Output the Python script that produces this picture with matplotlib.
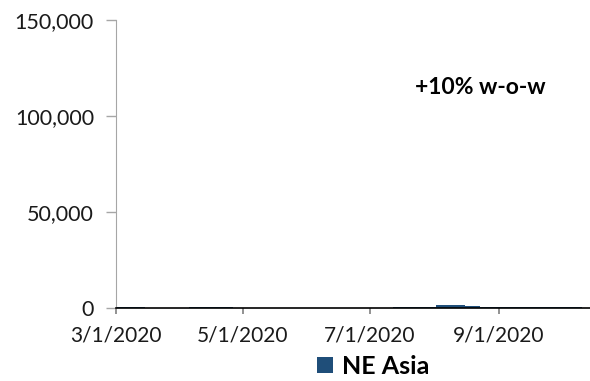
import matplotlib.pyplot as plt
import matplotlib.dates as md
import matplotlib.ticker as mt
import pandas as pd

# weekly NE Asia counts, week starting on each date
week_start = [
    "2020-03-01", "2020-03-08", "2020-03-15", "2020-03-22", "2020-03-29",
    "2020-04-05", "2020-04-12", "2020-04-19", "2020-04-26", "2020-05-03",
    "2020-05-10", "2020-05-17", "2020-05-24", "2020-05-31", "2020-06-07",
    "2020-06-14", "2020-06-21", "2020-06-28", "2020-07-05", "2020-07-12",
    "2020-07-19", "2020-07-26", "2020-08-02", "2020-08-09", "2020-08-16",
    "2020-08-23", "2020-08-30", "2020-09-06", "2020-09-13", "2020-09-20",
    "2020-09-27", "2020-10-04", "2020-10-11",
]
ne_asia = [
    600, 400, 0, 0, 0,
    400, 450, 400, 0, 0,
    0, 0, 0, 0, 0,
    0, 0, 0, 0, 300,
    400, 450, 1500, 1600, 1200,
    600, 500, 500, 500, 450,
    450, 450, 450,
]
x_ticks = ["2020-03-01", "2020-05-01", "2020-07-01", "2020-09-01"]
note = "+10% w-o-w"

colour = "#1F4E79"
plt.rcParams["font.family"] = ["Lato", "DejaVu Sans"]

dates = pd.to_datetime(week_start)
fig = plt.figure(figsize=(5.9, 3.81), dpi=100)
ax = fig.add_axes([0.197, 0.1916, 0.803, 0.756])

ax.fill_between(dates, ne_asia, step="post", color=colour, linewidth=0, label="NE Asia")

ax.set_ylim(0, 150000)
ax.set_xlim(pd.Timestamp("2020-03-01"), pd.Timestamp("2020-10-15"))
ax.yaxis.set_major_locator(mt.MultipleLocator(50000))
ax.yaxis.set_major_formatter(mt.StrMethodFormatter("{x:,.0f}"))
ax.set_xticks(pd.to_datetime(x_ticks))
ax.xaxis.set_major_formatter(md.DateFormatter("%-m/%-d/%Y"))

for side in ["top", "right"]:
    ax.spines[side].set_visible(False)
ax.spines["left"].set_color("#A6A6A6")
ax.spines["bottom"].set_color("black")
ax.spines["bottom"].set_linewidth(1.2)
ax.tick_params(axis="y", colors="#A6A6A6", labelcolor="#1a1a1a", labelsize=15.5,
               length=7, width=1, pad=9)
ax.tick_params(axis="x", colors="#7f7f7f", labelcolor="#1a1a1a", labelsize=15,
               length=4.3, width=1.2, pad=8)

ax.text(0.768, 0.764, note, transform=ax.transAxes, fontsize=16.5,
        fontweight="bold", ha="center", va="center", color="black")

fig.legend(loc="center", bbox_to_anchor=(0.632, 0.039), frameon=False,
           prop={"size": 18, "weight": "bold"}, handlelength=0.64,
           handleheight=0.64, handletextpad=0.35, borderpad=0, borderaxespad=0)

fig.savefig("out.png", dpi=100)
